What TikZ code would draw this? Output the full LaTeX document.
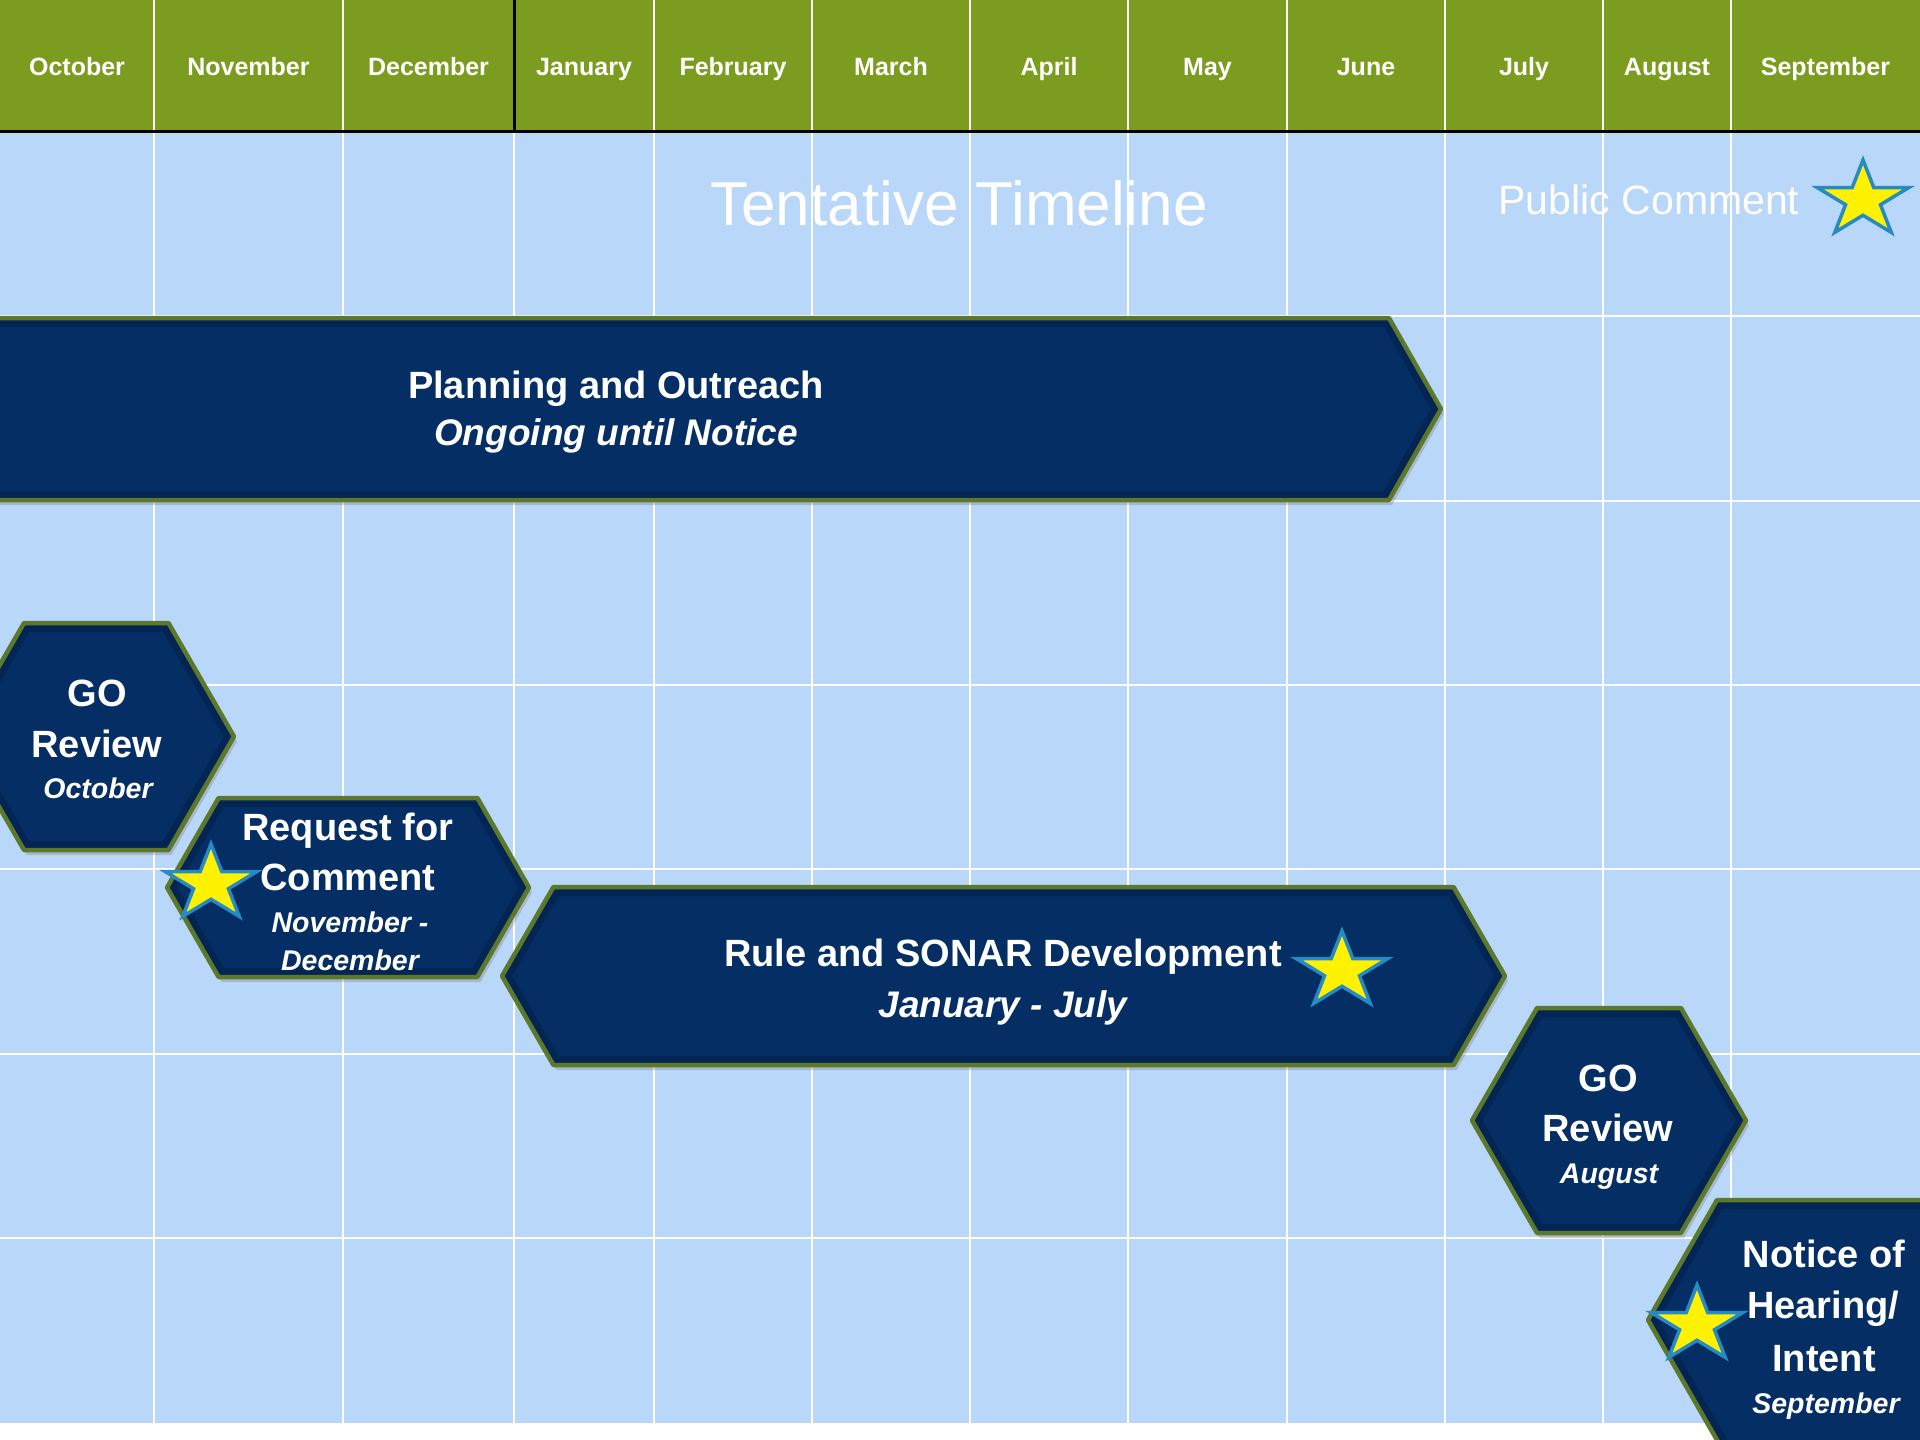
\documentclass[tikz,border=0pt]{standalone}
\usepackage{fontspec}
\setmainfont{Liberation Sans}
\usetikzlibrary{shadows}
\pgfdeclarelayer{gridlayer}
\pgfdeclarelayer{edgelayer}
\pgfdeclarelayer{nodelayer}
\pgfsetlayers{gridlayer,edgelayer,nodelayer,main}
\definecolor{headgreen}{RGB}{124,156,31}
\definecolor{gridblue}{RGB}{185,215,249}
\definecolor{boxnavy}{RGB}{4,46,100}
\definecolor{rimnavy}{RGB}{2,28,66}
\definecolor{boxolive}{RGB}{92,120,42}
\definecolor{starblue}{RGB}{38,138,196}
\tikzstyle{none}=[inner sep=0pt]
\tikzstyle{monthtext}=[inner sep=0pt,anchor=base,text=white,font=\bfseries\fontsize{25}{30}\selectfont]
\tikzstyle{headtext}=[inner sep=0pt,anchor=base,text=white,font=\fontsize{62}{70}\selectfont]
\tikzstyle{legendtext}=[inner sep=0pt,anchor=base,text=white,font=\fontsize{41}{48}\selectfont]
\tikzstyle{stagetitle}=[inner sep=0pt,anchor=base,text=white,font=\bfseries\fontsize{38}{44}\selectfont]
\tikzstyle{stagedate}=[inner sep=0pt,anchor=base,text=white,font=\bfseries\itshape\fontsize{37}{44}\selectfont]
\tikzstyle{hexdate}=[inner sep=0pt,anchor=base,text=white,font=\bfseries\itshape\fontsize{28.5}{34}\selectfont]
\tikzstyle{headline}=[-,draw=white,line width=2.5pt]
\tikzstyle{darkline}=[-,draw=black,line width=3pt]
\tikzstyle{gridline}=[-,draw=white,line width=2.5pt]
\tikzstyle{pubstar}=[fill=yellow,draw=starblue,line width=3.5pt,line join=miter]
\tikzstyle{stageshadow}=[drop shadow={opacity=0.35,shadow xshift=3pt,shadow yshift=-5pt}]

% one timeline stage: shadow, fill, dark rim inside, olive border
\newcommand{\stagebox}[1]{%
	\fill [boxnavy, style=stageshadow] #1;
	\begin{scope}
		\clip #1;
		\draw [rimnavy, line width=18pt, opacity=0.45, line join=round] #1;
	\end{scope}
	\draw [boxolive, line width=4.5pt, line join=round] #1;
}
% public comment star, a little wider than tall
\newcommand{\pcstar}[1]{%
	\draw [style=pubstar, shift={#1}, xscale=1.2] (90:40pt) -- (126:15.3pt) -- (162:40pt) -- (198:15.3pt) -- (234:40pt) -- (270:15.3pt) -- (306:40pt) -- (342:15.3pt) -- (18:40pt) -- (54:15.3pt) -- cycle;
}

\begin{document}
\begin{tikzpicture}[x=100pt, y=100pt]
	\useasboundingbox (0,0) rectangle (19.2,-14.4);
	\begin{pgfonlayer}{nodelayer}
		% planning and outreach
		\node [style=none] (0) at (-0.2, -3.18) {};
		\node [style=none] (1) at (13.89, -3.18) {};
		\node [style=none] (2) at (14.41, -4.09) {};
		\node [style=none] (3) at (13.89, -5.0) {};
		\node [style=none] (4) at (-0.2, -5.0) {};
		% go review october
		\node [style=none] (5) at (-0.415, -7.365) {};
		\node [style=none] (6) at (0.24, -6.23) {};
		\node [style=none] (7) at (1.685, -6.23) {};
		\node [style=none] (8) at (2.34, -7.365) {};
		\node [style=none] (9) at (1.685, -8.5) {};
		\node [style=none] (10) at (0.24, -8.5) {};
		% request for comment
		\node [style=none] (11) at (1.67, -8.875) {};
		\node [style=none] (12) at (2.186, -7.98) {};
		\node [style=none] (13) at (4.774, -7.98) {};
		\node [style=none] (14) at (5.29, -8.875) {};
		\node [style=none] (15) at (4.774, -9.77) {};
		\node [style=none] (16) at (2.186, -9.77) {};
		% rule and sonar
		\node [style=none] (17) at (5.02, -9.76) {};
		\node [style=none] (18) at (5.534, -8.87) {};
		\node [style=none] (19) at (14.536, -8.87) {};
		\node [style=none] (20) at (15.05, -9.76) {};
		\node [style=none] (21) at (14.536, -10.65) {};
		\node [style=none] (22) at (5.534, -10.65) {};
		% go review august
		\node [style=none] (23) at (14.72, -11.205) {};
		\node [style=none] (24) at (15.37, -10.08) {};
		\node [style=none] (25) at (16.81, -10.08) {};
		\node [style=none] (26) at (17.46, -11.205) {};
		\node [style=none] (27) at (16.81, -12.33) {};
		\node [style=none] (28) at (15.37, -12.33) {};
		% notice of hearing
		\node [style=none] (29) at (16.48, -13.2) {};
		\node [style=none] (30) at (17.17, -12.0) {};
		\node [style=none] (31) at (19.5, -12.0) {};
		\node [style=none] (32) at (19.5, -14.6) {};
		\node [style=none] (33) at (17.285, -14.6) {};
		% months
		\node [style=monthtext] (34) at (0.77, -0.76) {October};
		\node [style=monthtext] (35) at (2.485, -0.76) {November};
		\node [style=monthtext] (36) at (4.285, -0.76) {December};
		\node [style=monthtext] (37) at (5.84, -0.76) {January};
		\node [style=monthtext] (38) at (7.33, -0.76) {February};
		\node [style=monthtext] (39) at (8.91, -0.76) {March};
		\node [style=monthtext] (40) at (10.49, -0.76) {April};
		\node [style=monthtext] (41) at (12.075, -0.76) {May};
		\node [style=monthtext] (42) at (13.66, -0.76) {June};
		\node [style=monthtext] (43) at (15.24, -0.76) {July};
		\node [style=monthtext] (44) at (16.67, -0.76) {August};
		\node [style=monthtext] (45) at (18.255, -0.76) {September};
		\node [style=headtext] (46) at (9.59, -2.25) {Tentative Timeline};
		\node [style=legendtext] (47) at (16.49, -2.14) {Public Comment};
		% stage texts
		\node [style=stagetitle] (48) at (6.16, -3.98) {Planning and Outreach};
		\node [style=stagedate] (49) at (6.16, -4.45) {Ongoing until Notice};
		\node [style=stagetitle] (50) at (0.97, -7.06) {GO};
		\node [style=stagetitle] (51) at (0.97, -7.57) {Review};
		\node [style=hexdate] (52) at (0.98, -7.98) {October};
		\node [style=stagetitle] (53) at (3.48, -8.40) {Request for};
		\node [style=stagetitle] (54) at (3.48, -8.90) {Comment};
		\node [style=hexdate] (55) at (3.50, -9.32) {November -};
		\node [style=hexdate] (56) at (3.50, -9.70) {December};
		\node [style=stagetitle] (57) at (10.03, -9.66) {Rule and SONAR Development};
		\node [style=stagedate] (58) at (10.03, -10.17) {January - July};
		\node [style=stagetitle] (59) at (16.08, -10.91) {GO};
		\node [style=stagetitle] (60) at (16.08, -11.41) {Review};
		\node [style=hexdate] (61) at (16.09, -11.83) {August};
		\node [style=stagetitle] (62) at (18.24, -12.67) {Notice of};
		\node [style=stagetitle] (63) at (18.23, -13.18) {Hearing/};
		\node [style=stagetitle] (64) at (18.24, -13.71) {Intent};
		\node [style=hexdate] (65) at (18.26, -14.13) {September};
	\end{pgfonlayer}
	\begin{pgfonlayer}{gridlayer}
		\fill [gridblue] (0, -1.31) rectangle (19.2, -14.23);
		\fill [headgreen] (0, 0) rectangle (19.2, -1.31);
		\draw [style=headline] (1.54, 0) -- (1.54, -1.31) (3.43, 0) -- (3.43, -1.31);
		\draw [style=headline] (6.54, 0) -- (6.54, -1.31) (8.12, 0) -- (8.12, -1.31) (9.7, 0) -- (9.7, -1.31);
		\draw [style=headline] (11.28, 0) -- (11.28, -1.31) (12.87, 0) -- (12.87, -1.31) (14.45, 0) -- (14.45, -1.31);
		\draw [style=headline] (16.03, 0) -- (16.03, -1.31) (17.31, 0) -- (17.31, -1.31);
		\draw [style=darkline] (5.14, 0) -- (5.14, -1.31);
		\draw [style=gridline] (1.54, -1.31) -- (1.54, -14.23) (3.43, -1.31) -- (3.43, -14.23) (5.14, -1.31) -- (5.14, -14.23);
		\draw [style=gridline] (6.54, -1.31) -- (6.54, -14.23) (8.12, -1.31) -- (8.12, -14.23) (9.7, -1.31) -- (9.7, -14.23);
		\draw [style=gridline] (11.28, -1.31) -- (11.28, -14.23) (12.87, -1.31) -- (12.87, -14.23) (14.45, -1.31) -- (14.45, -14.23);
		\draw [style=gridline] (16.03, -1.31) -- (16.03, -14.23) (17.31, -1.31) -- (17.31, -14.23);
		\draw [style=gridline] (0, -3.16) -- (19.2, -3.16) (0, -5.01) -- (19.2, -5.01) (0, -6.85) -- (19.2, -6.85);
		\draw [style=gridline] (0, -8.69) -- (19.2, -8.69) (0, -10.54) -- (19.2, -10.54) (0, -12.38) -- (19.2, -12.38);
		\draw [style=darkline] (0, -1.31) -- (19.2, -1.31);
	\end{pgfonlayer}
	\begin{pgfonlayer}{edgelayer}
		\stagebox{(0.center) -- (1.center) -- (2.center) -- (3.center) -- (4.center) -- cycle}
		\stagebox{(5.center) -- (6.center) -- (7.center) -- (8.center) -- (9.center) -- (10.center) -- cycle}
		\stagebox{(11.center) -- (12.center) -- (13.center) -- (14.center) -- (15.center) -- (16.center) -- cycle}
		\stagebox{(17.center) -- (18.center) -- (19.center) -- (20.center) -- (21.center) -- (22.center) -- cycle}
		\stagebox{(23.center) -- (24.center) -- (25.center) -- (26.center) -- (27.center) -- (28.center) -- cycle}
		\stagebox{(29.center) -- (30.center) -- (31.center) -- (32.center) -- (33.center) -- cycle}
		\pcstar{(18.63, -2.0)}
		\pcstar{(2.11, -8.84)}
		\pcstar{(13.42, -9.71)}
		\pcstar{(16.97, -13.25)}
	\end{pgfonlayer}
\end{tikzpicture}
\end{document}
